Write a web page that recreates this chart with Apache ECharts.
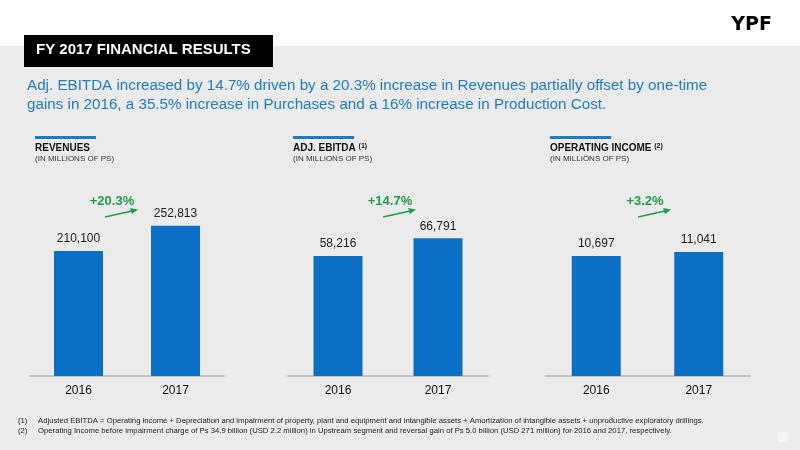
<!DOCTYPE html>
<html><head><meta charset="utf-8">
<script src="https://cdn.jsdelivr.net/npm/echarts@6/dist/echarts.min.js"></script>
<style>html,body{margin:0;padding:0;}#main{width:800px;height:450px;}</style>
</head><body><div id="main"></div>
<script>
var years = ['2016', '2017'];
var revenues = [210100, 252813];
var ebitda = [58216, 66791];
var opIncome = [10697, 11041];
var changes = ['+20.3%', '+14.7%', '+3.2%'];

var myChart = echarts.init(document.getElementById('main'));
var FONT = '"Liberation Sans", Arial, sans-serif';
var BLUE = '#0b6fc3';
var GREEN = '#1e9e4a';

// panel layout: grid left/width, y max (so equal px scale looks right), x of the % note
var panels = [
    {left: 30, width: 194, max: 380000, data: revenues, title: 'REVENUES', sup: '', px: 112},
    {left: 288, width: 200, max: 109640, data: ebitda, title: 'ADJ. EBITDA', sup: '(1)', px: 390},
    {left: 545, width: 205, max: 20140, data: opIncome, title: 'OPERATING INCOME', sup: '(2)', px: 645}
];

var grids = [], xAxes = [], yAxes = [], series = [];
var graphics = [
    {type: 'rect', shape: {x: 0, y: 46, width: 800, height: 404}, style: {fill: '#ebebeb'}, z: -10},
    {type: 'rect', shape: {x: 24, y: 35, width: 249, height: 32}, style: {fill: '#000'}},
    {type: 'text', left: 36, top: 42, style: {text: 'FY 2017 FINANCIAL RESULTS', fill: '#fff', font: 'bold 15px ' + FONT}},
    {type: 'text', right: 28, top: 16, style: {text: 'YPF', fill: '#000', font: 'bold 19px "DejaVu Sans", sans-serif'}},
    {type: 'text', left: 27, top: 76, style: {
        text: 'Adj. EBITDA increased by 14.7% driven by a 20.3% increase in Revenues partially offset by one-time\ngains in 2016, a 35.5% increase in Purchases and a 16% increase in Production Cost.',
        fill: '#1f7bc4', font: '15.2px ' + FONT, lineHeight: 19}},
    {type: 'text', left: 18, top: 416, style: {
        text: '(1)     Adjusted EBITDA = Operating income + Depreciation and impairment of property, plant and equipment and intangible assets + Amortization of intangible assets + unproductive exploratory drillings.\n(2)     Operating Income before impairment charge of Ps 34.9 billion (USD 2.2 million) in Upstream segment and reversal gain of Ps 5.0 billion (USD 271 million) for 2016 and 2017, respectively.',
        fill: '#222', font: '7.7px ' + FONT, lineHeight: 10}},
    {type: 'rect', shape: {x: 778, y: 432, width: 10, height: 10}, style: {fill: '#f4f4f4'}}
];

panels.forEach(function (p, i) {
    grids.push({left: p.left, width: p.width, top: 150, bottom: 74});
    xAxes.push({type: 'category', gridIndex: i, data: years,
        axisLine: {lineStyle: {color: '#b5b5b5', width: 1.5}}, axisTick: {show: false},
        axisLabel: {color: '#111', fontSize: 12, fontFamily: FONT, margin: 9}});
    yAxes.push({type: 'value', gridIndex: i, min: 0, max: p.max, show: false, splitLine: {show: false}});
    series.push({type: 'bar', xAxisIndex: i, yAxisIndex: i, data: p.data, barWidth: 49,
        itemStyle: {color: BLUE},
        label: {show: true, position: 'top', distance: 6, color: '#222', fontSize: 12, fontFamily: FONT,
            formatter: function (d) { return d.value.toLocaleString('en-US'); }}});

    var hx = p.left + 5;
    graphics.push({type: 'rect', shape: {x: hx, y: 136, width: 61, height: 3}, style: {fill: '#1f7bc4'}});
    graphics.push({type: 'text', left: hx, top: 143, style: {
        text: p.title + (p.sup ? ' {s|' + p.sup + '}' : ''), fill: '#111', font: 'bold 10px ' + FONT,
        rich: {s: {fontSize: 7, verticalAlign: 'top', fontFamily: FONT, fontWeight: 'bold', fill: '#111'}}}});
    graphics.push({type: 'text', left: hx, top: 155, style: {text: '(IN MILLIONS OF PS)', fill: '#333', font: '8px ' + FONT}});

    var cx = p.px;
    graphics.push({type: 'text', x: cx, y: 201, style: {text: changes[i], fill: GREEN, font: 'bold 13px ' + FONT, textAlign: 'center', textVerticalAlign: 'middle'}});
    graphics.push({type: 'line', shape: {x1: cx - 7, y1: 217, x2: cx + 20, y2: 211}, style: {stroke: GREEN, lineWidth: 1.3}});
    graphics.push({type: 'polygon', shape: {points: [[cx + 26, 209.5], [cx + 18, 208], [cx + 20, 214]]}, style: {fill: GREEN}});
});

var option = {
    backgroundColor: '#fff',
    animation: false,
    grid: grids,
    xAxis: xAxes,
    yAxis: yAxes,
    series: series,
    graphic: graphics
};
myChart.setOption(option);
</script></body></html>
